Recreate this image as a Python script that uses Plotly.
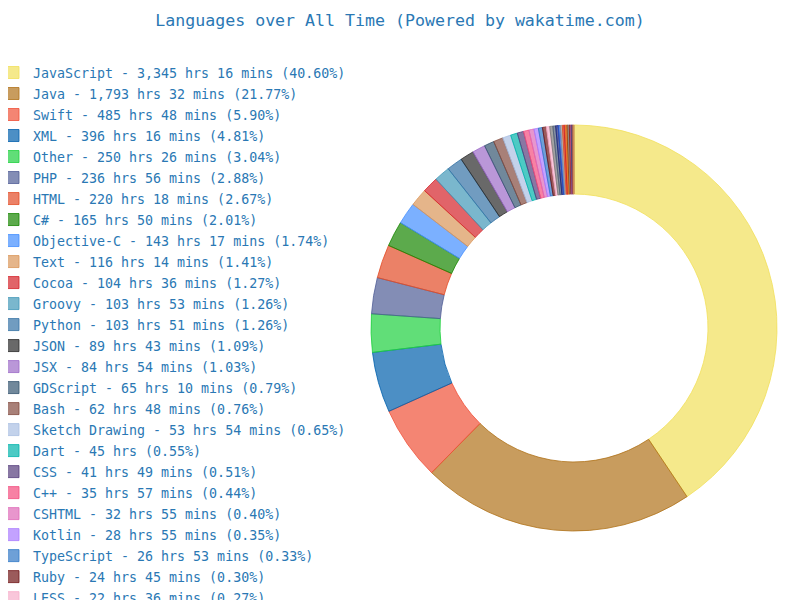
import plotly.graph_objects as go

# languages, time spent (hrs, mins), share as printed, base colour
languages = ["JavaScript", "Java", "Swift", "XML", "Other", "PHP", "HTML", "C#",
             "Objective-C", "Text", "Cocoa", "Groovy", "Python", "JSON", "JSX",
             "GDScript", "Bash", "Sketch Drawing", "Dart", "CSS", "C++", "CSHTML",
             "Kotlin", "TypeScript", "Ruby", "LESS",
             "Markdown", "YAML", "Go", "Vue.js", "Shell Script", "SQL", "Gradle",
             "Docker", "Makefile", "INI", "Batchfile", "SCSS", "CoffeeScript",
             "Sass", "TOML", "Properties", "Git Config", "Smarty"]
hours = [3345, 1793, 485, 396, 250, 236, 220, 165, 143, 116, 104, 103, 103, 89, 84,
         65, 62, 53, 45, 41, 35, 32, 28, 26, 24, 22,
         20, 18, 16, 14, 12, 10, 9, 9, 8, 7, 6, 5, 4, 4, 3, 2, 1, 1]
minutes = [16, 32, 48, 16, 26, 56, 18, 50, 17, 14, 36, 53, 51, 43, 54,
           10, 48, 54, 0, 49, 57, 55, 55, 53, 45, 36,
           36, 8, 29, 10, 21, 43, 53, 5, 14, 25, 36, 46, 57, 7, 18, 28, 39, 39]
percents = [40.60, 21.77, 5.90, 4.81, 3.04, 2.88, 2.67, 2.01, 1.74, 1.41, 1.27, 1.26,
            1.26, 1.09, 1.03, 0.79, 0.76, 0.65, 0.55, 0.51, 0.44, 0.40, 0.35, 0.33,
            0.30, 0.27,
            0.25, 0.22, 0.20, 0.17, 0.15, 0.13, 0.12, 0.11, 0.10, 0.09, 0.08, 0.07,
            0.06, 0.05, 0.04, 0.03, 0.02, 0.02]
colors = ["#f1e05a", "#b07219", "#f05138", "#0060ac", "#1ed03e", "#4f5d95", "#e34c26",
          "#178600", "#438eff", "#da9558", "#d42229", "#4298b8", "#3572a5", "#292929",
          "#9c6bc8", "#355570", "#834a3e", "#a9bfe2", "#00b4ab", "#563d7c", "#f34b7d",
          "#de69b8", "#a97bff", "#3178c6", "#701516", "#f7aecb",
          "#7a7a7a", "#50607a", "#1a237e", "#2255cc", "#999999", "#e44d26",
          "#cc2222", "#f08020", "#8b4513", "#8c8c8c", "#8b1a1a", "#c6538c",
          "#244776", "#a53b70", "#9c4221", "#aaaaaa", "#f44d27", "#c0a060"]


def rgba(hex_color, alpha):
    h = hex_color.lstrip("#")
    r, g, b = (int(h[i:i + 2], 16) for i in (0, 2, 4))
    return f"rgba({r},{g},{b},{alpha})"


def label(name, h, m, p):
    t = f"{name} - {h:,} hrs"
    if m:
        t += f" {m} mins"
    # smaller span keeps the text width while legend.font sets the row height
    return f'<span style="font-size:13.3px">{t} ({p:.2f}%)</span>'


values = [h + m / 60 for h, m in zip(hours, minutes)]
labels = [label(n, h, m, p) for n, h, m, p in zip(languages, hours, minutes, percents)]

txt = "#2a78b4"
font = "DejaVu Sans Mono"
off = 8  # page body margin

fig = go.Figure()
fig.add_trace(go.Pie(
    labels=labels, values=values, sort=False, direction="clockwise", rotation=0,
    hole=0.66, textinfo="none", hoverinfo="label",
    marker=dict(colors=[rgba(c, 0.7) for c in colors],
                line=dict(color=colors, width=0.8)),
    domain=dict(x=[(371 - off) / 800, (777 - off) / 800],
                y=[(69 + off) / 600, (475 + off) / 600]),
))
fig.update_layout(
    width=800, height=600,
    margin=dict(l=0, r=0, t=0, b=0, autoexpand=False),
    paper_bgcolor="white", plot_bgcolor="white",
    font=dict(family=font, color=txt, size=13.3),
    title=dict(text="Languages over All Time (Powered by wakatime.com)",
               x=(400 - off) / 800, xanchor="center", y=1 - (20 - off) / 600,
               yanchor="middle",
               font=dict(family=font, size=16.6, color=txt)),
    legend=dict(x=-15 / 800, xanchor="left", y=1 - 49 / 600, yanchor="top",
                font=dict(family=font, size=13.85, color=txt),
                bgcolor="rgba(0,0,0,0)", tracegroupgap=0),
    showlegend=True,
)
fig.write_html("out.html", config={"staticPlot": True})
